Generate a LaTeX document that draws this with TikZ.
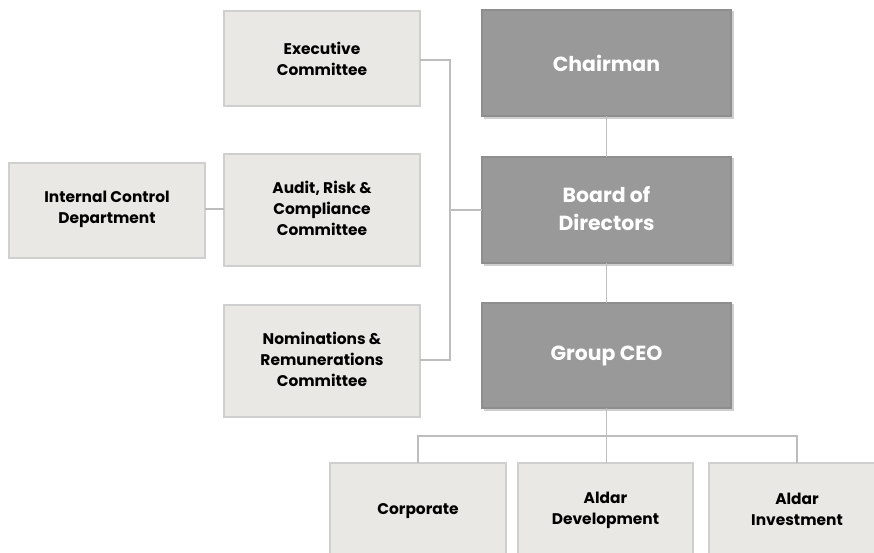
\documentclass[tikz,border=0pt]{standalone}
\usepackage{fontspec}
\setmainfont{Poppins}[BoldFont={* Bold}]
\definecolor{lightbox}{HTML}{EAE8E4}
\definecolor{lightedge}{HTML}{CFCFCF}
\definecolor{darkbox}{HTML}{999999}
\definecolor{darkedge}{HTML}{8E8E8E}
\definecolor{linegray}{HTML}{BDBDBD}
\begin{document}
\begin{tikzpicture}[x=1bp,y=-1bp,
  lbox/.style={draw=lightedge,line width=1.2bp,fill=lightbox,inner sep=0pt,
    font=\fontsize{15.5}{21}\selectfont\bfseries,align=center,text=black},
  dbox/.style={draw=darkedge,line width=1.2bp,fill=darkbox,inner sep=0pt,
    font=\fontsize{20.5}{28}\selectfont\bfseries,align=center,text=white},
  conn/.style={draw=linegray,line width=1.3bp}]
\useasboundingbox (0,0) rectangle (874,553);
% light boxes
\path[lbox] (224,11) rectangle (420,106);
\node[lbox,draw=none,fill=none] (exec) at (322,58.5) {Executive\\Committee};
\path[lbox] (224,154) rectangle (420,266);
\node[lbox,draw=none,fill=none] (audit) at (322,208) {Audit, Risk \&\\Compliance\\Committee};
\path[lbox] (224,305) rectangle (420,417);
\node[lbox,draw=none,fill=none] (nom) at (322,359) {Nominations \&\\Remunerations\\Committee};
\path[lbox] (9,163) rectangle (205,258);
\node[lbox,draw=none,fill=none] (icd) at (107,209) {Internal Control\\Department};
% dark boxes with light shadow
\foreach \t/\b in {10/116,157/263,303/408}{
  \draw[lightedge,line width=1.2bp] (484,\t+2) -- (733,\t+2) -- (733,\b+2) -- (484,\b+2);
  \path[dbox] (482,\t) rectangle (731,\b);
}
\node[dbox,draw=none,fill=none] (chair) at (606.5,63) {Chairman};
\node[dbox,draw=none,fill=none] (board) at (606.5,209) {Board of\\Directors};
\node[dbox,draw=none,fill=none] (ceo) at (606.5,355.5) {Group CEO};
% bottom boxes
\path[lbox] (330,463) rectangle (506,560);
\node[lbox,draw=none,fill=none] (corp) at (418,511) {Corporate};
\path[lbox] (518,463) rectangle (693,560);
\node[lbox,draw=none,fill=none] (adev) at (605.5,510.5) {Aldar\\Development};
\path[lbox] (709,463) rectangle (885,560);
\node[lbox,draw=none,fill=none] (ainv) at (797,509) {Aldar\\Investment};
% coordinates
\coordinate (chB) at (606.5,116);
\coordinate (bdT) at (606.5,157);
\coordinate (bdB) at (606.5,263);
\coordinate (ceoT) at (606.5,303);
\coordinate (ceoB) at (606.5,408);
\coordinate (bus) at (606.5,436);
\coordinate (corpT) at (418,463);
\coordinate (adevT) at (606.5,463);
\coordinate (ainvT) at (797,463);
\coordinate (execR) at (420,60);
\coordinate (nomR) at (420,360);
\coordinate (bdL) at (482,210);
\coordinate (lbus) at (450,210);
\coordinate (icdR) at (205,209);
\coordinate (auditL) at (224,209);
% connectors
\draw[conn] (chB) -- (bdT);
\draw[conn] (bdB) -- (ceoT);
\draw[conn] (ceoB) -- (adevT);
\draw[conn] (corpT) |- (bus) -| (ainvT);
\draw[conn] (execR) -| (lbus) |- (nomR);
\draw[conn] (lbus) -- (bdL);
\draw[conn] (icdR) -- (auditL);
\end{tikzpicture}
\end{document}
